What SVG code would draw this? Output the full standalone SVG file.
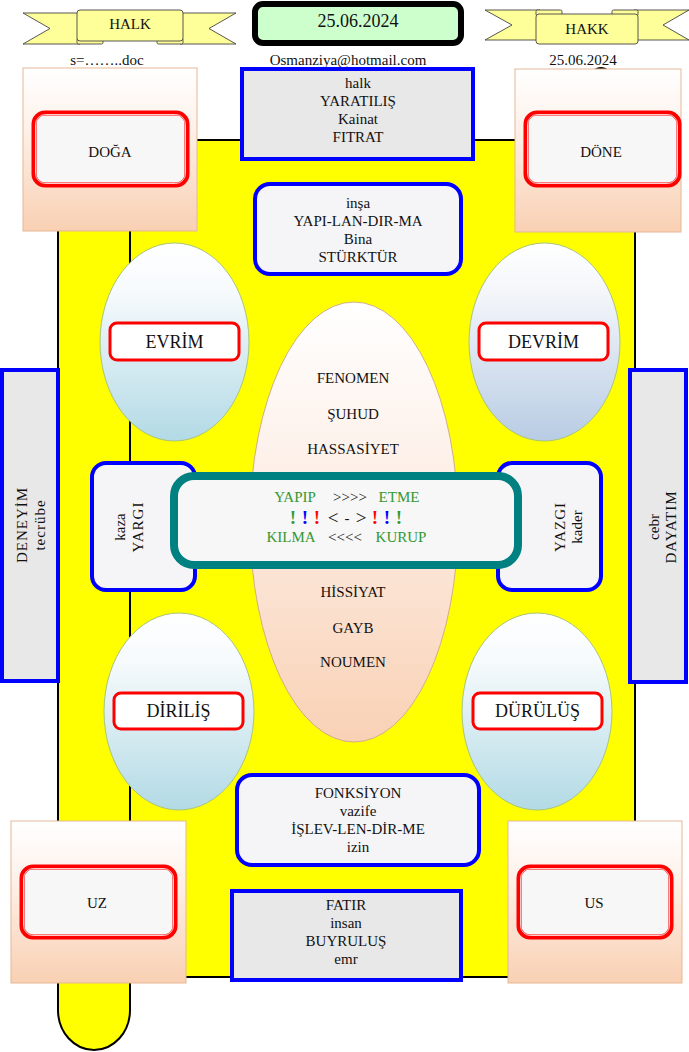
<svg xmlns="http://www.w3.org/2000/svg" width="689" height="1052" viewBox="0 0 689 1052">
<defs>
<linearGradient id="gPeach" x1="0" y1="0" x2="0" y2="1"><stop offset="0" stop-color="#FFFFFF"/><stop offset="0.3" stop-color="#FEF4EE"/><stop offset="1" stop-color="#F9D0B3"/></linearGradient>
<linearGradient id="gBlue" x1="0" y1="0" x2="0" y2="1"><stop offset="0" stop-color="#FFFFFF"/><stop offset="0.25" stop-color="#F6FAFC"/><stop offset="1" stop-color="#B2DAE5"/></linearGradient>
<linearGradient id="gSteel" x1="0" y1="0" x2="0" y2="1"><stop offset="0" stop-color="#FFFFFF"/><stop offset="0.25" stop-color="#F4F6FA"/><stop offset="1" stop-color="#B8CCE4"/></linearGradient>
<linearGradient id="gCenter" x1="0" y1="0" x2="0" y2="1"><stop offset="0" stop-color="#FFFFFF"/><stop offset="0.35" stop-color="#FDF1EA"/><stop offset="1" stop-color="#F9D1B5"/></linearGradient>
<style>
text{font-family:"Liberation Serif","Times New Roman",serif;font-size:15px;fill:#111;text-anchor:middle}
.rib{fill:#FFFF99;stroke:#444;stroke-width:0.9}
.panel{fill:url(#gPeach);stroke:#E5B896;stroke-width:1}
.redO{fill:#F7F7F7;stroke:#FF0000;stroke-width:5}
.redI{fill:none;stroke:#FFFFFF;stroke-width:0.8}
.redS{fill:#FFFFFF;stroke:#FF0000;stroke-width:3}
.blueG{fill:#E8E8E8;stroke:#0000FF;stroke-width:4}
.blueW{fill:#F5F5F7;stroke:#0000FF;stroke-width:4}
.ell{stroke:#A9C47F;stroke-width:1}
.g{fill:#339933}
.big{font-size:19px;font-weight:bold}
</style>
</defs>

<g id="scroll">
<rect x="130" y="140" width="505" height="837" fill="#FFFF00" stroke="#000" stroke-width="2"/>
<path d="M58,140 L58,1010 A36,40 0 0 0 130,1010 L130,140 Z" fill="#FFFF00" stroke="#000" stroke-width="2"/>
</g>

<g id="ribbon-halk">
<polygon class="rib" points="23,13 80,13 80,44 23,44 50,28.5"/>
<polygon class="rib" points="236,13 180,13 180,44 236,44 209,28.5"/>
<rect class="rib" x="77" y="38" width="26" height="6" rx="1.5"/>
<rect class="rib" x="157" y="38" width="26" height="6" rx="1.5"/>
<rect class="rib" x="77" y="10" width="106" height="31" rx="3"/>
<text x="130" y="29">HALK</text>
</g>

<g id="ribbon-hakk">
<polygon class="rib" points="485,10 540,10 540,40 485,40 512,25"/>
<polygon class="rib" points="689,10 634,10 634,40 689,40 663,25"/>
<rect class="rib" x="536" y="10" width="26" height="6" rx="1.5"/>
<rect class="rib" x="612" y="10" width="26" height="6" rx="1.5"/>
<rect class="rib" x="536" y="14" width="102" height="30" rx="3"/>
<text x="587" y="34">HAKK</text>
</g>

<g id="date-box">
<rect x="255" y="4" width="206" height="39" rx="8" fill="#CCFFCC" stroke="#000" stroke-width="6"/>
<text x="358" y="27" style="font-size:18px">25.06.2024</text>
</g>

<g id="header-texts">
<text x="107" y="65">s=……..doc</text>
<text x="348" y="65">Osmanziya@hotmail.com</text>
<text x="583" y="65">25.06.2024</text>
<path d="M592,71 Q601,63 610,71 Z" fill="#000"/>
</g>

<g id="doga">
<rect class="panel" x="23" y="68" width="174" height="163"/>
<rect class="redO" x="34" y="113" width="153" height="72" rx="11"/>
<rect class="redI" x="35.5" y="114.5" width="150" height="69" rx="10"/>
<text x="110" y="157">DOĞA</text>
</g>

<g id="done">
<rect class="panel" x="515" y="69" width="166" height="163"/>
<rect class="redO" x="526" y="113" width="153" height="72" rx="11"/>
<rect class="redI" x="527.5" y="114.5" width="150" height="69" rx="10"/>
<text x="601" y="157">DÖNE</text>
</g>

<g id="yaratilis">
<rect class="blueG" x="242" y="69" width="231" height="90"/>
<text x="358" y="88">halk</text>
<text x="358" y="106">YARATILIŞ</text>
<text x="358" y="124">Kainat</text>
<text x="358" y="142">FITRAT</text>
</g>

<g id="insa">
<rect class="blueW" x="255" y="184" width="206" height="90" rx="15"/>
<text x="358" y="208">inşa</text>
<text x="358" y="226">YAPI-LAN-DIR-MA</text>
<text x="358" y="244">Bina</text>
<text x="358" y="262">STÜRKTÜR</text>
</g>

<g id="evrim">
<ellipse class="ell" cx="174.5" cy="342" rx="74.5" ry="99" fill="url(#gBlue)"/>
<rect class="redS" x="110" y="323" width="129" height="37" rx="7"/>
<text x="174.5" y="348" style="font-size:18px">EVRİM</text>
</g>

<g id="devrim">
<ellipse class="ell" cx="544.5" cy="342" rx="75.5" ry="99" fill="url(#gSteel)"/>
<rect class="redS" x="479" y="323" width="129" height="37" rx="7"/>
<text x="543.5" y="348" style="font-size:18px">DEVRİM</text>
</g>

<g id="dirilis">
<ellipse class="ell" cx="179" cy="711.5" rx="75" ry="98.5" fill="url(#gBlue)"/>
<rect class="redS" x="114" y="693" width="129" height="36" rx="7"/>
<text x="178.5" y="717" style="font-size:18px">DİRİLİŞ</text>
</g>

<g id="durulus">
<ellipse class="ell" cx="537" cy="711.5" rx="75" ry="98.5" fill="url(#gBlue)"/>
<rect class="redS" x="473" y="693" width="129" height="36" rx="7"/>
<text x="537.5" y="717" style="font-size:18px">DÜRÜLÜŞ</text>
</g>

<g id="center-ellipse">
<ellipse cx="354" cy="522" rx="104" ry="220" fill="url(#gCenter)" stroke="#D2AE86" stroke-width="1"/>
<text x="353" y="383">FENOMEN</text>
<text x="353" y="419">ŞUHUD</text>
<text x="353" y="454">HASSASİYET</text>
<text x="353" y="597">HİSSİYAT</text>
<text x="353" y="633">GAYB</text>
<text x="353" y="667">NOUMEN</text>
</g>

<g id="deneyim">
<rect class="blueG" x="2" y="370" width="56" height="311"/>
<text transform="translate(27,525) rotate(-90)" style="letter-spacing:1px">DENEYİM</text>
<text transform="translate(45,525) rotate(-90)" style="letter-spacing:1px">tecrübe</text>
</g>

<g id="dayatim">
<rect class="blueG" x="630" y="370" width="56" height="312"/>
<text transform="translate(659,527) rotate(-90)">cebr</text>
<text transform="translate(676,527) rotate(-90)" style="letter-spacing:1px">DAYATIM</text>
</g>

<g id="kaza">
<rect class="blueW" x="92" y="463" width="103" height="127" rx="14"/>
<text transform="translate(125,527) rotate(-90)">kaza</text>
<text transform="translate(143,527) rotate(-90)" style="letter-spacing:1px">YARGI</text>
</g>

<g id="yazgi">
<rect class="blueW" x="498" y="463" width="103" height="127" rx="14"/>
<text transform="translate(565,527) rotate(-90)" style="letter-spacing:1px">YAZGI</text>
<text transform="translate(582,527) rotate(-90)">kader</text>
</g>

<g id="center-box">
<rect x="174" y="476" width="344" height="89" rx="20" fill="#F7F7F7" stroke="#008080" stroke-width="8"/>
<text x="295" y="502" class="g">YAPIP</text>
<text x="350" y="502">&gt;&gt;&gt;&gt;</text>
<text x="399" y="502" class="g">ETME</text>
<text x="293" y="524" class="big" style="fill:#339933">!</text>
<text x="305" y="524" class="big" style="fill:#0000FF">!</text>
<text x="317" y="524" class="big" style="fill:#FF0000">!</text>
<text x="333" y="524" style="font-size:19px">&lt;</text>
<text x="347" y="523" style="font-size:15px">-</text>
<text x="361" y="524" style="font-size:19px">&gt;</text>
<text x="375" y="524" class="big" style="fill:#FF0000">!</text>
<text x="387" y="524" class="big" style="fill:#0000FF">!</text>
<text x="399" y="524" class="big" style="fill:#339933">!</text>
<text x="291" y="542" class="g">KILMA</text>
<text x="345" y="542">&lt;&lt;&lt;&lt;</text>
<text x="401" y="542" class="g">KURUP</text>
</g>

<g id="fonksiyon">
<rect class="blueW" x="237" y="775" width="242" height="90" rx="15"/>
<text x="358" y="798">FONKSİYON</text>
<text x="358" y="816">vazife</text>
<text x="358" y="834">İŞLEV-LEN-DİR-ME</text>
<text x="358" y="852">izin</text>
</g>

<g id="uz">
<rect class="panel" x="11" y="821" width="175" height="162"/>
<rect class="redO" x="22" y="867" width="153" height="70" rx="11"/>
<rect class="redI" x="23.5" y="868.5" width="150" height="67" rx="10"/>
<text x="97" y="908">UZ</text>
</g>

<g id="us">
<rect class="panel" x="508" y="821" width="174" height="162"/>
<rect class="redO" x="519" y="867" width="152" height="70" rx="11"/>
<rect class="redI" x="520.5" y="868.5" width="149" height="67" rx="10"/>
<text x="594" y="908">US</text>
</g>

<g id="fatir">
<rect class="blueG" x="232" y="891" width="229" height="89"/>
<text x="346" y="910">FATIR</text>
<text x="346" y="928">insan</text>
<text x="346" y="946">BUYRULUŞ</text>
<text x="346" y="964">emr</text>
</g>

<g id="connectors"/>
</svg>
